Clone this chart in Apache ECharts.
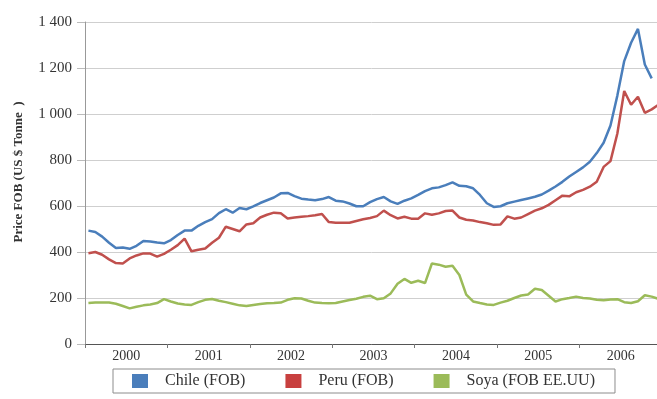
<!DOCTYPE html>
<html>
<head>
<meta charset="utf-8">
<script src="https://cdn.jsdelivr.net/npm/echarts@6.0.0/dist/echarts.min.js"></script>
<style>
  html, body { margin: 0; padding: 0; background: #fff; }
  #chart { width: 657px; height: 399px; }
</style>
</head>
<body>
<div id="chart"></div>
<script>
// years shown on the x axis, monthly data starting Jan 2000
const years = ['2000', '2001', '2002', '2003', '2004', '2005', '2006']

// Chile (FOB), Jan 2000 - Nov 2006
const chile = [
  493, 487, 467, 440, 417, 420, 414, 427, 448, 446, 441, 438,
  452, 474, 493, 493, 514, 530, 543, 569, 586, 571, 591, 586,
  598, 613, 625, 637, 655, 657, 643, 632, 628, 625, 630, 639,
  623, 620, 611, 599, 599, 617, 630, 639, 620, 609, 623, 633,
  648, 665, 677, 681, 691, 703, 688, 686, 677, 648, 612, 596,
  599, 612, 619, 626, 633, 640, 650, 667, 685, 705, 728, 748,
  768, 792, 830, 875, 950, 1080, 1230, 1310, 1370, 1215, 1155
]

// Peru (FOB)
const peru = [
  395, 400, 388, 368, 352, 350, 372, 385, 394, 393, 380, 392,
  410, 430, 458, 403, 410, 415, 440, 462, 510, 500, 490, 520,
  525, 550, 562, 571, 568, 546, 550, 553, 556, 560, 565, 530,
  527, 527, 527, 535, 542, 548, 556, 580, 560, 546, 553, 545,
  545, 568, 562, 568, 578, 580, 550, 540, 537, 530, 525, 518,
  520, 555, 545, 550, 565, 580, 590, 605, 625, 645, 642, 660,
  670, 684, 705, 770, 795, 915, 1100, 1040, 1075, 1005, 1020, 1040
]

// Soya (FOB EE.UU)
const soya = [
  178, 180, 180, 180, 175, 165, 155, 162, 168, 172, 178, 195,
  185, 176, 172, 170, 182, 192, 196, 188, 182, 175, 168, 165,
  170, 174, 177, 178, 180, 192, 199, 198, 188, 180, 178, 177,
  178, 185, 191, 197, 205, 210, 195, 199, 220, 262, 283, 266,
  275, 265, 350, 345, 336, 340, 300, 215, 185, 178, 172, 170,
  180, 188, 200, 211, 215, 240, 235, 210, 185, 195, 200, 206,
  200, 198, 192, 190, 193, 195, 182, 178, 186, 212, 206, 196
]

const months = []
years.forEach(y => {
  for (let m = 1; m <= 12; m++) months.push(y + '-' + (m < 10 ? '0' + m : m))
})

const serif = 'Liberation Serif'
const myChart = echarts.init(document.getElementById('chart'))
myChart.setOption({
  backgroundColor: '#fff',
  animation: false,
  grid: { left: 85, right: -5, top: 22, bottom: 55, outerBoundsMode: 'none' },
  legend: {
    data: ['Chile (FOB)', 'Peru (FOB)', 'Soya (FOB EE.UU)'],
    left: 113,
    top: 369,
    orient: 'horizontal',
    padding: [4, 20, 4, 19],
    itemGap: 40,
    itemWidth: 16,
    itemHeight: 14,
    icon: 'rect',
    borderColor: '#8c8c8c',
    borderWidth: 1,
    textStyle: { fontFamily: serif, fontSize: 16, color: '#333', padding: [0, 0, 0, 12] }
  },
  xAxis: [{
    type: 'category',
    data: months,
    boundaryGap: true,
    show: false
  }, {
    type: 'category',
    data: years,
    boundaryGap: true,
    position: 'bottom',
    axisLine: { lineStyle: { color: '#555', width: 1 } },
    axisTick: { show: true, length: 4, lineStyle: { color: '#777' } },
    axisLabel: { fontFamily: serif, fontSize: 14, color: '#333', margin: 5 },
    splitLine: { show: false }
  }],
  yAxis: {
    type: 'value',
    min: 0,
    max: 1400,
    interval: 200,
    name: 'Price FOB (US $ Tonne  )',
    nameLocation: 'middle',
    nameRotate: 90,
    nameGap: 60,
    nameTextStyle: { fontFamily: serif, fontSize: 13, fontWeight: 'bold', color: '#333', padding: [0, 0, 0, 22] },
    axisLine: { show: true, lineStyle: { color: '#999' } },
    axisTick: { show: true, length: 8, lineStyle: { color: '#bbb' } },
    axisLabel: {
      fontFamily: serif, fontSize: 15, color: '#333', margin: 13,
      formatter: v => String(v).replace(/\B(?=(\d{3})+(?!\d))/g, ' ')
    },
    splitLine: { lineStyle: { color: '#cfcfcf', width: 1 } }
  },
  series: [{
    name: 'Chile (FOB)',
    type: 'line',
    data: chile,
    showSymbol: false,
    lineStyle: { width: 2.5, color: '#4a7ebb' },
    itemStyle: { color: '#4a7ebb' }
  }, {
    name: 'Peru (FOB)',
    type: 'line',
    data: peru,
    showSymbol: false,
    lineStyle: { width: 2.5, color: '#c0504d' },
    itemStyle: { color: '#c8403f' }
  }, {
    name: 'Soya (FOB EE.UU)',
    type: 'line',
    data: soya,
    showSymbol: false,
    lineStyle: { width: 2.5, color: '#9bbb59' },
    itemStyle: { color: '#9bbb59' }
  }]
})
</script>
</body>
</html>
